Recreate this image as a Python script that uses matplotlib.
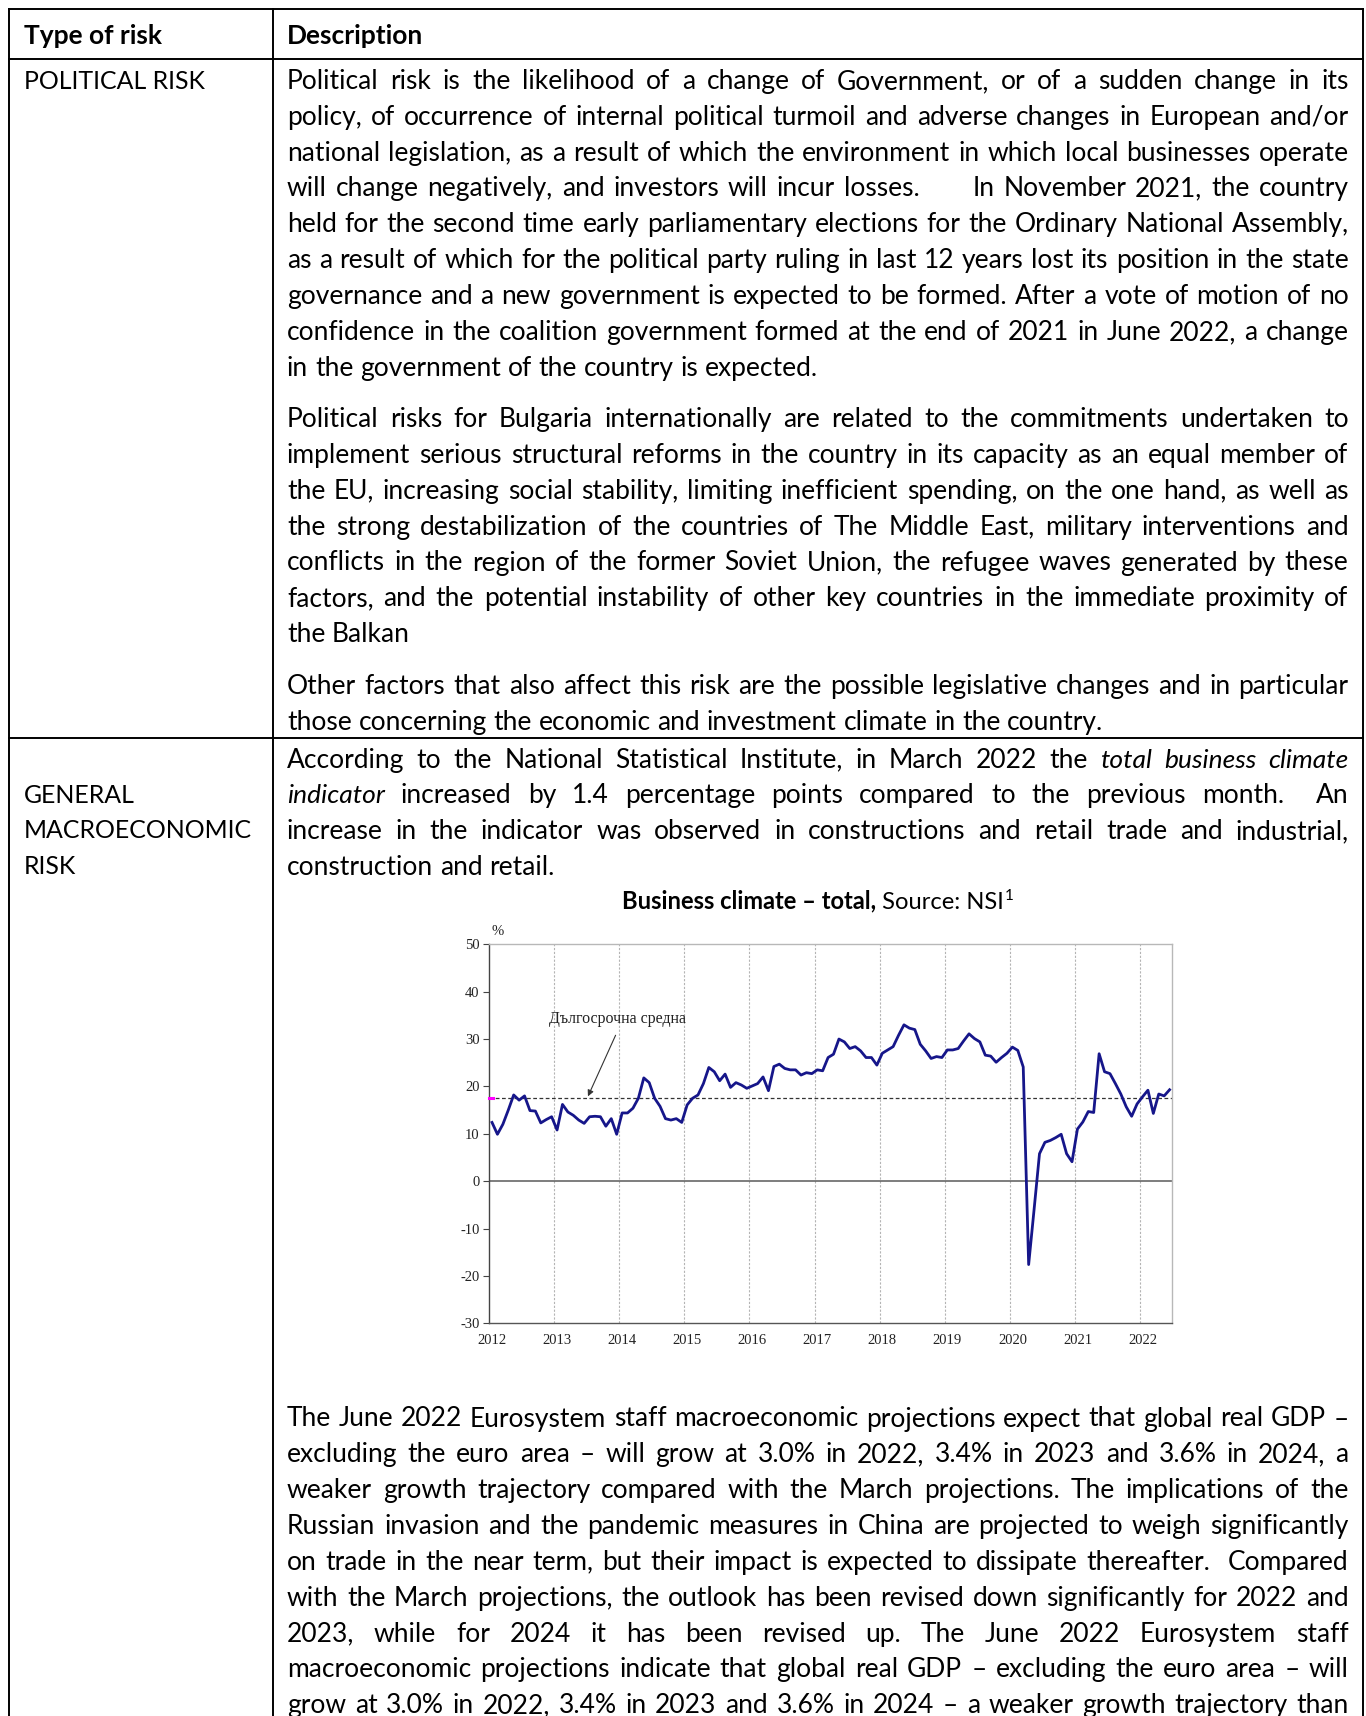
import numpy as np
import matplotlib
matplotlib.use('Agg')
import matplotlib.pyplot as plt
from matplotlib.font_manager import FontProperties

# business climate - total, monthly, Jan 2012 .. Jun 2022 (%)
bc = [12.4, 9.9, 12.0, 15.0, 18.2, 17.1, 18.0, 14.9, 14.8, 12.3, 13.0, 13.6,
      10.8, 16.2, 14.6, 13.9, 12.9, 12.2, 13.6, 13.7, 13.6, 11.6, 13.2, 9.9,
      14.4, 14.4, 15.4, 17.5, 21.8, 20.8, 17.5, 15.8, 13.2, 12.9, 13.2, 12.4,
      16.1, 17.5, 18.2, 20.6, 24.0, 23.1, 21.2, 22.6, 19.8, 20.8, 20.3, 19.6,
      20.1, 20.6, 22.0, 19.1, 24.2, 24.7, 23.8, 23.5, 23.5, 22.4, 22.9, 22.7,
      23.5, 23.3, 26.1, 26.8, 30.0, 29.4, 28.0, 28.4, 27.5, 26.1, 26.1, 24.5,
      27.0, 27.7, 28.4, 30.8, 33.0, 32.3, 32.0, 28.9, 27.5, 25.9, 26.3, 26.1,
      27.7, 27.7, 28.0, 29.6, 31.1, 30.1, 29.4, 26.6, 26.4, 25.1, 26.1, 27.0,
      28.3, 27.6, 24.1, -17.6, -6.0, 5.8, 8.2, 8.6, 9.2, 9.9, 5.8, 4.1,
      11.0, 12.5, 14.7, 14.5, 26.9, 23.1, 22.7, 20.6, 18.4, 15.7, 13.7, 16.3,
      17.8, 19.2, 14.3, 18.4, 18.0, 19.3]
long_avg = 17.6
years = list(range(2012, 2023))
yticks = list(range(-30, 51, 10))

# document text (line breaks as in the reference); _word_ = italic
political_1 = [
    "Political risk is the likelihood of a change of Government, or of a sudden change in its",
    "policy, of occurrence of internal political turmoil and adverse changes in European and/or",
    "national legislation, as a result of which the environment in which local businesses operate",
    "will change negatively, and investors will incur losses.      In November 2021, the country",
    "held for the second time early parliamentary elections for the Ordinary National Assembly,",
    "as a result of which for the political party ruling in last 12 years lost its position in the state",
    "governance and a new government is expected to be formed. After a vote of motion of no",
    "confidence in the coalition government formed at the end of 2021 in June 2022, a change",
    "in the government of the country is expected.",
]
political_2 = [
    "Political risks for Bulgaria internationally are related to the commitments undertaken to",
    "implement serious structural reforms in the country in its capacity as an equal member of",
    "the EU, increasing social stability, limiting inefficient spending, on the one hand, as well as",
    "the strong destabilization of the countries of The Middle East, military interventions and",
    "conflicts in the region of the former Soviet Union, the refugee waves generated by these",
    "factors, and the potential instability of other key countries in the immediate proximity of",
    "the Balkan",
]
political_3 = [
    "Other factors that also affect this risk are the possible legislative changes and in particular",
    "those concerning the economic and investment climate in the country.",
]
macro_1 = [
    "According to the National Statistical Institute, in March 2022 the _total_ _business_ _climate_",
    "_indicator_ increased by 1.4 percentage points compared to the previous month.  An",
    "increase in the indicator was observed in constructions and retail trade and industrial,",
    "construction and retail.",
]
macro_2 = [
    "The June 2022 Eurosystem staff macroeconomic projections expect that global real GDP \u2013",
    "excluding the euro area \u2013 will grow at 3.0% in 2022, 3.4% in 2023 and 3.6% in 2024, a",
    "weaker growth trajectory compared with the March projections. The implications of the",
    "Russian invasion and the pandemic measures in China are projected to weigh significantly",
    "on trade in the near term, but their impact is expected to dissipate thereafter.  Compared",
    "with the March projections, the outlook has been revised down significantly for 2022 and",
    "2023, while for 2024 it has been revised up. The June 2022 Eurosystem staff",
    "macroeconomic projections indicate that global real GDP \u2013 excluding the euro area \u2013 will",
    "grow at 3.0% in 2022, 3.4% in 2023 and 3.6% in 2024 \u2013 a weaker growth trajectory than",
]

W, H = 1366, 1716
fig = plt.figure(figsize=(W / 100, H / 100), dpi=100)
page = fig.add_axes([0, 0, 1, 1])
page.set_xlim(0, W)
page.set_ylim(H, 0)
page.axis('off')
renderer = fig.canvas.get_renderer()

BODY = ['Lato', 'DejaVu Sans']
X0, X1 = 287, 1348.6
LH = 35.85
BASE = 9  # baseline offset below the line centre


def fp(size, weight='normal', style='normal'):
    return FontProperties(family=BODY, weight=weight, style=style, size=size)


def tw(s, prop):
    return renderer.get_text_width_height_descent(s, prop, ismath=False)[0]


def split_words(line, size):
    words, props = [], []
    for t in line.split(' '):
        if len(t) > 1 and t.startswith('_') and t.endswith('_'):
            words.append(t[1:-1])
            props.append(fp(size, style='italic'))
        else:
            words.append(t)
            props.append(fp(size))
    return words, props


def space_w(size):
    p = fp(size)
    return tw('a a', p) - tw('aa', p)


# pick body size so the fullest justified line just fits
size = 17.0
nat = []
for para in [political_1, political_2, political_3, macro_1, macro_2]:
    for ln in para[:-1]:
        ws, ps = split_words(ln, size)
        nat.append(sum(tw(w, p) for w, p in zip(ws, ps) if w) + space_w(size) * (len(ws) - 1))
ratio = max(nat) / (X1 - X0)
size = min(size * 0.99 / ratio, 19.5)


def put_line(y, line, justify):
    ws, ps = split_words(line, size)
    widths = [tw(w, p) if w else 0 for w, p in zip(ws, ps)]
    sp = space_w(size)
    if justify and len(ws) > 1:
        sp = (X1 - X0 - sum(widths)) / (len(ws) - 1)
    x = X0
    for w, p, wd in zip(ws, ps, widths):
        if w:
            page.text(x, y, w, fontproperties=p, va='baseline', ha='left', color='black')
        x += wd + sp


def put_para(y_first, lines, last_justified=False):
    for i, ln in enumerate(lines):
        last = i == len(lines) - 1
        put_line(y_first + i * LH + BASE, ln, (not last) or last_justified)


put_para(79.9, political_1)
put_para(418.1, political_2)
put_para(685.2, political_3)
put_para(758.6, macro_1)
put_para(1417.5, macro_2, last_justified=True)

# header and left column
page.text(24, 35 + BASE, 'Type of risk', fontproperties=fp(size, weight='bold'), va='baseline')
page.text(X0, 35 + BASE, 'Description', fontproperties=fp(size, weight='bold'), va='baseline')
left_p = fp(size * 0.94)
page.text(24, 79.9 + BASE, 'POLITICAL RISK', fontproperties=left_p, va='baseline')
for i, w in enumerate(['GENERAL', 'MACROECONOMIC', 'RISK']):
    page.text(24, 793.6 + i * LH + BASE, w, fontproperties=left_p, va='baseline')

# table rules
lw = 1.4
page.plot([9, 9], [9, H], color='black', lw=lw)
page.plot([272.5, 272.5], [9, H], color='black', lw=lw)
page.plot([1363, 1363], [9, H], color='black', lw=lw)
for yy in [9, 59, 738]:
    page.plot([9, 1363], [yy, yy], color='black', lw=lw)

# chart caption
p_b = fp(size * 0.9, weight='bold')
p_r = fp(size * 0.9)
p_s = fp(size * 0.58)
t1, t2, t3 = 'Business climate \u2013 total,', ' Source: NSI', '1'
w1, w2, w3 = tw(t1, p_b), tw(t2, p_r), tw(t3, p_s)
xs = 817.6 - (w1 + w2 + w3) / 2
yb = 899.8 + BASE
page.text(xs, yb, t1, fontproperties=p_b, va='baseline')
page.text(xs + w1, yb, t2, fontproperties=p_r, va='baseline')
page.text(xs + w1 + w2 + 1, yb - 9, t3, fontproperties=p_s, va='baseline')

# chart
SERIF = 'Liberation Serif'
ax = fig.add_axes([489.3 / W, 1 - 1323.3 / H, 683 / W, 379 / H])
n = len(bc)
ax.set_xlim(0, n)
ax.set_ylim(-30, 50)
for k in range(1, len(years)):
    ax.axvline(12 * k, color='#b4b4b4', lw=0.8, ls=(0, (2, 1.5)), zorder=1)
ax.axhline(0, color='#5a5a5a', lw=1.1, zorder=2)
ax.axhline(long_avg, color='#333333', lw=0.9, ls=(0, (3, 2)), zorder=2)
ax.plot([0, 0.7], [long_avg, long_avg], color='#ff00ff', lw=2.2, zorder=3, clip_on=False)
ax.plot(np.arange(n) + 0.5, bc, color='#16168a', lw=2.0, zorder=4)

ax.set_xticks(12 * np.arange(len(years)) + 0.5)
ax.set_xticklabels([str(y) for y in years])
ax.set_yticks(yticks)
ax.set_yticklabels([str(v) for v in yticks])
ax.tick_params(axis='x', length=0, pad=8)
ax.tick_params(axis='y', length=4, width=0.8, direction='out', pad=3, color='#444444')
for lab in ax.get_xticklabels() + ax.get_yticklabels():
    lab.set_fontfamily(SERIF)
    lab.set_fontsize(10.5)
    lab.set_color('#222222')
ax.spines['top'].set_color('#b8b8b8')
ax.spines['right'].set_color('#b8b8b8')
ax.spines['left'].set_color('#444444')
ax.spines['bottom'].set_color('#555555')
for s in ax.spines.values():
    s.set_linewidth(1.0)

ax.text(23.6, 34.3, 'Дългосрочна средна', family=SERIF, fontsize=11.5,
        ha='center', va='center', color='#222222')
ax.annotate('', xy=(18.2, 17.9), xytext=(23.3, 30.8),
            arrowprops=dict(arrowstyle='-|>', color='#333333', lw=0.8,
                            mutation_scale=9, shrinkA=0, shrinkB=0))
page.text(497.7, 931.7, '%', family=SERIF, fontsize=10.5, ha='center', va='center', color='#222222')

fig.savefig('out.png', dpi=100)
